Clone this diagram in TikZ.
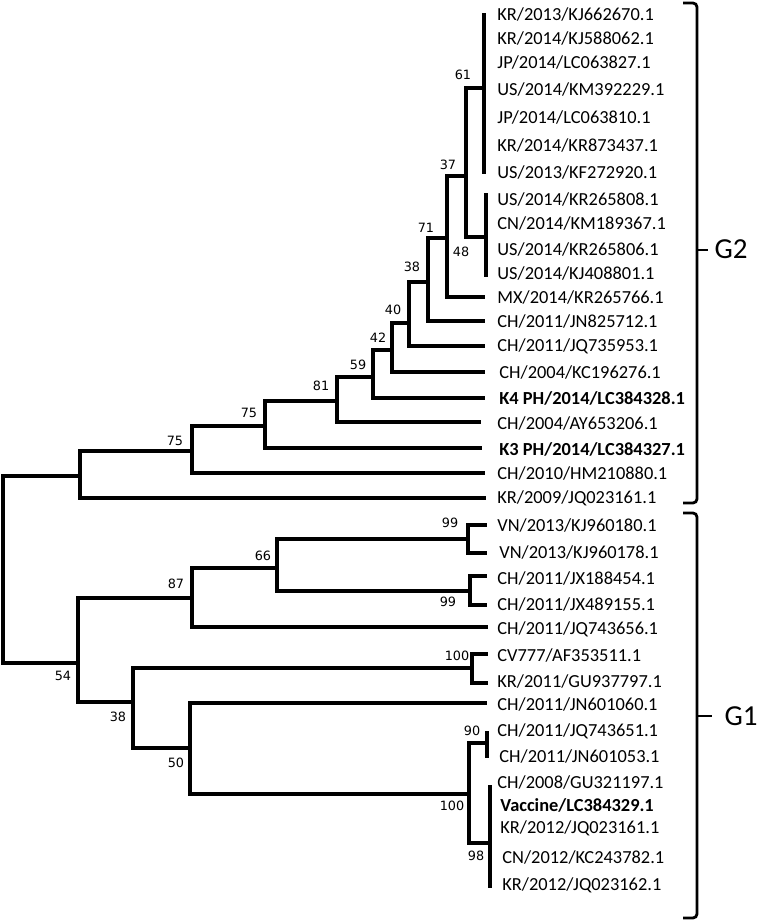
\documentclass[tikz,border=0pt]{standalone}
\usepackage{fontspec}
\setmainfont{Carlito}
\newfontfamily\bsfont{DejaVu Sans}
\begin{document}
\begin{tikzpicture}[x=0.5pt,y=-0.5pt,
  br/.style={line width=1.6pt},
  brk/.style={line width=1.4pt, rounded corners=2pt},
  leaf/.style={anchor=west, inner sep=0pt, font=\fontsize{9.2}{11}\selectfont},
  bleaf/.style={leaf, font=\fontsize{9.2}{11}\selectfont\bfseries},
  boot/.style={inner sep=0pt, font=\bsfont\fontsize{6.4}{7}\selectfont},
  grp/.style={inner sep=0pt, font=\fontsize{14.5}{16}\selectfont}]
\useasboundingbox (0,0) rectangle (758,922);

% ---- leaf labels ----
\node[leaf] (n1) at (497,14) {KR/2013/KJ662670.1};
\node[leaf] (n2) at (497,38) {KR/2014/KJ588062.1};
\node[leaf] (n3) at (497,62) {JP/2014/LC063827.1};
\node[leaf] (n4) at (497,89) {US/2014/KM392229.1};
\node[leaf] (n5) at (497,117) {JP/2014/LC063810.1};
\node[leaf] (n6) at (497,145) {KR/2014/KR873437.1};
\node[leaf] (n7) at (497,172) {US/2013/KF272920.1};
\node[leaf] (n8) at (497,199) {US/2014/KR265808.1};
\node[leaf] (n9) at (497,223) {CN/2014/KM189367.1};
\node[leaf] (n10) at (497,249) {US/2014/KR265806.1};
\node[leaf] (n11) at (497,273) {US/2014/KJ408801.1};
\node[leaf] (n12) at (497,297) {MX/2014/KR265766.1};
\node[leaf] (n13) at (497,321) {CH/2011/JN825712.1};
\node[leaf] (n14) at (497,346) {CH/2011/JQ735953.1};
\node[leaf] (n15) at (499,372) {CH/2004/KC196276.1};
\node[bleaf] (n16) at (499,398) {K4 PH/2014/LC384328.1};
\node[leaf] (n17) at (497,423) {CH/2004/AY653206.1};
\node[bleaf] (n18) at (499,449) {K3 PH/2014/LC384327.1};
\node[leaf] (n19) at (497,473) {CH/2010/HM210880.1};
\node[leaf] (n20) at (497,498) {KR/2009/JQ023161.1};
\node[leaf] (n21) at (497,525) {VN/2013/KJ960180.1};
\node[leaf] (n22) at (499,552) {VN/2013/KJ960178.1};
\node[leaf] (n23) at (497,578) {CH/2011/JX188454.1};
\node[leaf] (n24) at (497,604) {CH/2011/JX489155.1};
\node[leaf] (n25) at (497,629) {CH/2011/JQ743656.1};
\node[leaf] (n26) at (497,655) {CV777/AF353511.1};
\node[leaf] (n27) at (497,681) {KR/2011/GU937797.1};
\node[leaf] (n28) at (497,704) {CH/2011/JN601060.1};
\node[leaf] (n29) at (497,731) {CH/2011/JQ743651.1};
\node[leaf] (n30) at (499,756) {CH/2011/JN601053.1};
\node[leaf] (n31) at (497,782) {CH/2008/GU321197.1};
\node[bleaf] (n32) at (500,805) {Vaccine/LC384329.1};
\node[leaf] (n33) at (500,828) {KR/2012/JQ023161.1};
\node[leaf] (n34) at (502,857) {CN/2012/KC243782.1};
\node[leaf] (n35) at (502,885) {KR/2012/JQ023162.1};

% ---- tip coordinates ----
\coordinate (t12) at (485,297);
\coordinate (t13) at (485,321);
\coordinate (t14) at (485,346);
\coordinate (t15) at (485,372);
\coordinate (t16) at (485,398);
\coordinate (t17) at (481,422);
\coordinate (t18) at (482,448);
\coordinate (t19) at (485,473);
\coordinate (t20) at (486,498);
\coordinate (t21) at (487,525);
\coordinate (t22) at (487,553);
\coordinate (t23) at (487,576);
\coordinate (t24) at (487,605);
\coordinate (t25) at (488,627);
\coordinate (t26) at (488,654);
\coordinate (t27) at (488,683);
\coordinate (t28) at (487,703);

% ---- internal nodes ----
\coordinate (R) at (3,570);
\coordinate (U1) at (80,476);
\coordinate (U2) at (192,451);
\coordinate (U3) at (265,426);
\coordinate (U4) at (337,401);
\coordinate (U5) at (373,377);
\coordinate (U6) at (392,350);
\coordinate (U7) at (409,323);
\coordinate (U8) at (428,282);
\coordinate (U9) at (447,238);
\coordinate (U10) at (466,176);
\coordinate (A) at (484,88);
\coordinate (Atop) at (484,13);
\coordinate (Abot) at (484,174);
\coordinate (B) at (486,237);
\coordinate (Btop) at (486,193);
\coordinate (Bbot) at (486,277);
\coordinate (L1) at (78,663);
\coordinate (L2) at (192,598);
\coordinate (L3) at (277,568);
\coordinate (L4) at (468,539);
\coordinate (L5) at (470,591);
\coordinate (L6) at (133,702);
\coordinate (L7) at (472,668);
\coordinate (L8) at (190,748);
\coordinate (L9) at (469,794);
\coordinate (L10) at (487,743);
\coordinate (L10top) at (487,731);
\coordinate (L10bot) at (487,758);
\coordinate (L11) at (490,843);
\coordinate (L11top) at (490,785);
\coordinate (L11bot) at (490,888);

% ---- branches ----
\draw[br] (R) |- (U1);
\draw[br] (R) |- (L1);
\draw[br] (U1) |- (U2);  \draw[br] (U1) |- (t20);
\draw[br] (U2) |- (U3);  \draw[br] (U2) |- (t19);
\draw[br] (U3) |- (U4);  \draw[br] (U3) |- (t18);
\draw[br] (U4) |- (U5);  \draw[br] (U4) |- (t17);
\draw[br] (U5) |- (U6);  \draw[br] (U5) |- (t16);
\draw[br] (U6) |- (U7);  \draw[br] (U6) |- (t15);
\draw[br] (U7) |- (U8);  \draw[br] (U7) |- (t14);
\draw[br] (U8) |- (U9);  \draw[br] (U8) |- (t13);
\draw[br] (U9) |- (U10); \draw[br] (U9) |- (t12);
\draw[br] (U10) |- (A);  \draw[br] (U10) |- (B);
\draw[br] (Atop) -- (Abot);
\draw[br] (Btop) -- (Bbot);
\draw[br] (L1) |- (L2);  \draw[br] (L1) |- (L6);
\draw[br] (L2) |- (L3);  \draw[br] (L2) |- (t25);
\draw[br] (L3) |- (L4);  \draw[br] (L3) |- (L5);
\draw[br] (L4) |- (t21); \draw[br] (L4) |- (t22);
\draw[br] (L5) |- (t23); \draw[br] (L5) |- (t24);
\draw[br] (L6) |- (L7);  \draw[br] (L6) |- (L8);
\draw[br] (L7) |- (t26); \draw[br] (L7) |- (t27);
\draw[br] (L8) |- (t28); \draw[br] (L8) |- (L9);
\draw[br] (L9) |- (L10); \draw[br] (L9) |- (L11);
\draw[br] (L10top) -- (L10bot);
\draw[br] (L11top) -- (L11bot);

% ---- bootstrap values ----
\node[boot] (b61) at (463,75) {61};
\node[boot] (b37) at (448,165) {37};
\node[boot] (b48) at (461,252) {48};
\node[boot] (b71) at (426,228) {71};
\node[boot] (b38) at (412,267) {38};
\node[boot] (b40) at (393,310) {40};
\node[boot] (b42) at (378,338) {42};
\node[boot] (b59) at (358,365) {59};
\node[boot] (b81) at (321,386) {81};
\node[boot] (b75a) at (249,413) {75};
\node[boot] (b75b) at (175,441) {75};
\node[boot] (b54) at (63,676) {54};
\node[boot] (b87) at (176,584) {87};
\node[boot] (b66) at (263,556) {66};
\node[boot] (b99a) at (450,523) {99};
\node[boot] (b99b) at (448,602) {99};
\node[boot] (b38b) at (118,717) {38};
\node[boot] (b100a) at (457,656) {100};
\node[boot] (b50) at (176,763) {50};
\node[boot] (b100b) at (452,806) {100};
\node[boot] (b90) at (472,731) {90};
\node[boot] (b98) at (476,856) {98};

% ---- group brackets ----
\coordinate (g2a) at (683,3);
\coordinate (g2b) at (697,3);
\coordinate (g2c) at (697,503);
\coordinate (g2d) at (683,503);
\coordinate (g2m) at (697,250);
\coordinate (g2t) at (708,250);
\draw[brk] (g2a) -- (g2b) -- (g2c) -- (g2d);
\draw[brk] (g2m) -- (g2t);
\node[grp] (G2) at (731,249) {G2};

\coordinate (g1a) at (683,513);
\coordinate (g1b) at (697,513);
\coordinate (g1c) at (697,918);
\coordinate (g1d) at (683,918);
\coordinate (g1m) at (697,716);
\coordinate (g1t) at (712,716);
\draw[brk] (g1a) -- (g1b) -- (g1c) -- (g1d);
\draw[brk] (g1m) -- (g1t);
\node[grp] (G1) at (741,716) {G1};
\end{tikzpicture}
\end{document}
